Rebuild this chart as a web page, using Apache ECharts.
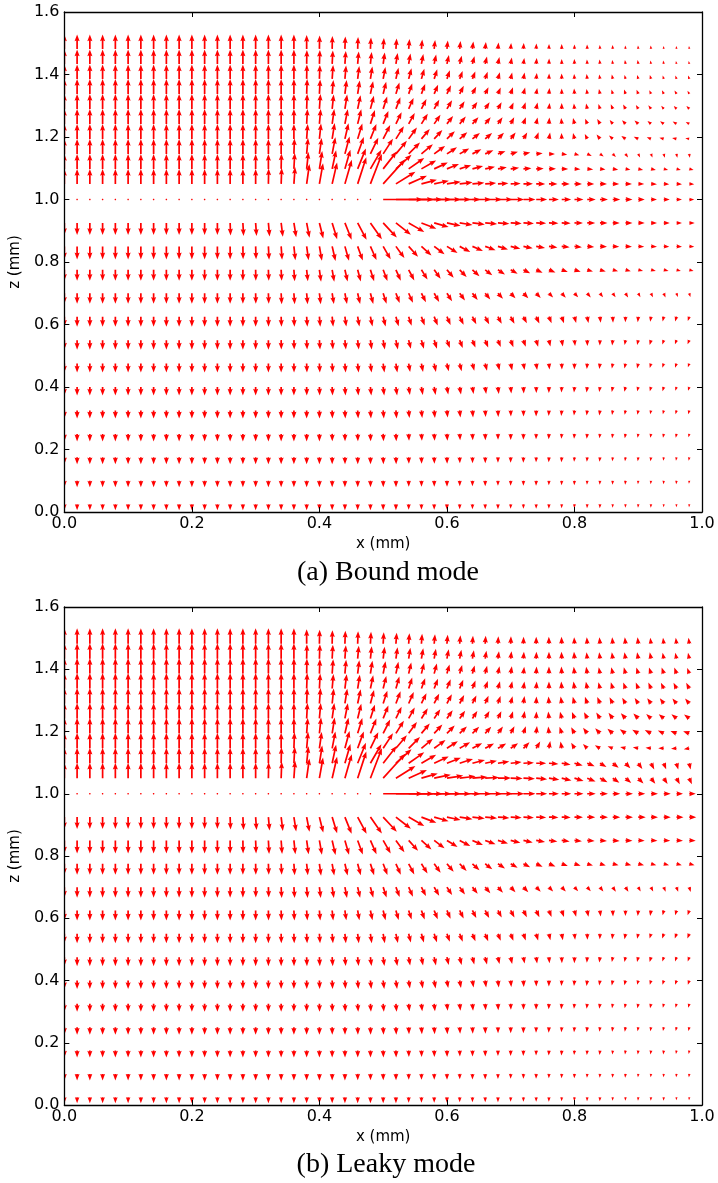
<!DOCTYPE html>
<html>
<head>
<meta charset="utf-8">
<script src="https://cdn.jsdelivr.net/npm/echarts@6/dist/echarts.min.js"></script>
<style>
  html, body { margin: 0; padding: 0; background: #fff; }
  #chart { width: 718px; height: 1183px; }
</style>
</head>
<body>
<div id="chart"></div>
<script>
// Sample positions of the vector field (mm)
const xCols = [0.00,0.02,0.04,0.06,0.08,0.10,0.12,0.14,0.16,0.18,0.20,0.22,0.24,0.26,0.28,0.30,0.32,0.34,0.36,0.38,0.40,0.42,0.44,0.46,0.48,0.50,0.52,0.54,0.56,0.58,0.60,0.62,0.64,0.66,0.68,0.70,0.72,0.74,0.76,0.78,0.80,0.82,0.84,0.86,0.88,0.90,0.92,0.94,0.96,0.98];
const zUpper = [1.05,1.098,1.146,1.194,1.242,1.29,1.338,1.386,1.434,1.482];
const zMid = 1.0;
const zLower = [0.925,0.85,0.775,0.7,0.625,0.55,0.475,0.4,0.325,0.25,0.175,0.1,0.025];

const xTickLabels = ['0.0','0.2','0.4','0.6','0.8','1.0'];
const yTickLabels = ['0.0','0.2','0.4','0.6','0.8','1.0','1.2','1.4','1.6'];
const captions = ['(a) Bound mode', '(b) Leaky mode'];

// ---------- (a) Bound mode: field direction (deg, CCW from +x) and magnitude ----------
const boundUpperAngle = [
[90,90,90,90,90,90,90,90,90,90,90,90,90,90,90,90,89,88,86,82,80,77,74,72,69,48,32,24,15,12,9,7,5,4,3,2,1,0,0,-1,-1,-1,-2,-2,-2,-2,-3,-3,-3,-3],
[90,90,90,90,90,90,90,90,90,90,90,90,90,90,90,90,90,89,87,84,81,78,74,68,60,52,42,35,30,25,22,18,15,12,10,7,5,3,1,-1,-3,-5,-7,-9,-10,-12,-13,-14,-15,-16],
[90,90,90,90,90,90,90,90,90,90,90,90,90,90,90,90,90,90,88,85,82,79,75,70,64,57,50,45,40,36,33,30,27,24,20,16,12,6,0,-8,-16,-25,-35,-45,-55,-62,-68,-74,-78,-82],
[90,90,90,90,90,90,90,90,90,90,90,90,90,90,90,90,90,90,90,86,84,81,77,73,68,63,58,54,50,47,44,41,38,40,45,52,60,70,80,92,104,116,128,138,146,154,160,165,168,170],
[90,90,90,90,90,90,90,90,90,90,90,90,90,90,90,90,90,90,90,87,85,82,79,76,72,68,64,61,58,55,52,50,48,50,55,62,70,78,86,95,104,112,120,127,133,138,142,145,148,150],
[90,90,90,90,90,90,90,90,90,90,90,90,90,90,90,90,90,90,90,88,86,84,81,78,75,72,69,66,63,61,59,57,55,57,61,66,72,78,84,90,96,102,108,113,118,122,126,129,132,135],
[90,90,90,90,90,90,90,90,90,90,90,90,90,90,90,90,90,90,90,88,87,85,83,81,78,76,73,71,69,67,65,63,62,64,67,71,75,80,85,90,94,98,102,106,109,112,115,117,119,120],
[90,90,90,90,90,90,90,90,90,90,90,90,90,90,90,90,90,90,90,89,88,86,85,83,81,79,77,75,74,72,71,70,69,71,74,77,80,84,88,91,94,97,100,102,104,106,107,108,109,110],
[90,90,90,90,90,90,90,90,90,90,90,90,90,90,90,90,90,90,90,89,88,87,86,85,84,82,81,80,79,78,77,76,75,76,78,80,82,85,88,90,92,94,96,97,98,99,100,100,101,101],
[90,90,90,90,90,90,90,90,90,90,90,90,90,90,90,90,90,90,90,90,89,89,88,88,87,86,86,85,85,84,84,84,83,84,85,86,87,88,89,90,91,92,93,93,94,94,95,95,95,95]
];
const boundUpperLength = [
[15,15,15,15,15,15,15,15,15,15,15,15,15,15,15,15,15.5,16,17,20,21,22,25,28,32,33,23,20,16,15,14,13,12,11,10.5,10,9.5,9,8.5,8,7.5,7,7,6.5,6.5,6,6,5.5,5.5,5],
[15,15,15,15,15,15,15,15,15,15,15,15,15,15,15,15,15,15.5,16,17,18,19,20,22,22,22,21,19,17,15,13,12,11,10,9,8.5,8,7.5,7,6.5,6,6,5.5,5.5,5,5,5,4.5,4.5,4.5],
[15,15,15,15,15,15,15,15,15,15,15,15,15,15,15,15,15,15,15.5,16,16,17,18,18,18,18,17,16,15,13.5,12,11,10,9,8,7.5,7,6.5,6,5.5,5,5,4.5,4.5,4.5,4,4,4,4,4],
[15,15,15,15,15,15,15,15,15,15,15,15,15,15,15,15,15,15,15,15,15.5,16,16,16,16,15.5,15,14,13,12,11,10,9.5,9,8.5,8,7.5,7,6.5,6,6,5.5,5.5,5,5,5,4.5,4.5,4.5,4],
[15,15,15,15,15,15,15,15,15,15,15,15,15,15,15,15,15,15,15,15,15,15,15,15,14.5,14,13,12.5,12,11,10,9.5,9,8.5,8,7.5,7,6.5,6.5,6,6,5.5,5.5,5,5,5,4.5,4.5,4.5,4],
[15,15,15,15,15,15,15,15,15,15,15,15,15,15,15,15,15,15,15,15,15,14.5,14.5,14,13.5,13,12.5,12,11,10.5,10,9,8.5,8,7.5,7,7,6.5,6,6,5.5,5.5,5,5,5,4.5,4.5,4,4,4],
[15,15,15,15,15,15,15,15,15,15,15,15,15,15,15,15,15,15,15,15,14.5,14,14,13.5,13,12.5,12,11,10.5,10,9.5,9,8,7.5,7,7,6.5,6,6,5.5,5.5,5,5,4.5,4.5,4.5,4,4,4,3.5],
[14.5,14.5,14.5,14.5,14.5,14.5,14.5,14.5,14.5,14.5,14.5,14.5,14.5,14.5,14.5,14.5,14.5,14.5,14.5,14.5,14,14,13.5,13,12.5,12,11.5,11,10.5,10,9,8.5,8,7.5,7,6.5,6.5,6,5.5,5.5,5,5,4.5,4.5,4,4,4,3.5,3.5,3.5],
[14.5,14.5,14.5,14.5,14.5,14.5,14.5,14.5,14.5,14.5,14.5,14.5,14.5,14.5,14.5,14.5,14.5,14.5,14.5,14,14,13.5,13,12.5,12,11.5,11,10.5,10,9.5,9,8.5,8,7.5,7,6.5,6,6,5.5,5,5,4.5,4.5,4,4,4,3.5,3.5,3,3],
[14.5,14.5,14.5,14.5,14.5,14.5,14.5,14.5,14.5,14.5,14.5,14.5,14.5,14.5,14.5,14.5,14.5,14.5,14.5,14,13.5,13,12.5,12,11.5,11,10.5,10,9.5,9,8.5,8,7.5,7,6.5,6,6,5.5,5,5,4.5,4.5,4,4,3.5,3.5,3.5,3,3,3]
];
const boundMidAngle = [0,0,0,0,0,0,0,0,0,0,0,0,0,0,0,0,0,0,0,0,0,0,0,0,0,0,0,0,0,0,0,0,0,0,0,0,0,0,0,0,0,0,0,0,0,0,0,0,0,0];
const boundMidLength = [0.5,0.5,0.5,0.5,0.5,0.5,0.5,0.5,0.5,0.5,0.5,0.5,0.5,0.5,0.5,0.5,0.5,0.5,0.5,0.5,0.5,0.5,0.5,0.5,0.5,40,38,34,30,27,24,21,19,17,15,13.5,12,11,10,9.5,9,8.5,8,7.5,7,6.5,6,6,5.5,5];
const boundLowerAngle = [
[-90,-90,-90,-90,-90,-90,-90,-90,-90,-90,-90,-90,-90,-88,-87,-86,-85,-83,-81,-79,-76,-73,-68,-62,-55,-47,-38,-30,-21,-16,-12,-9,-7,-5,-4,-3,-3,-2,-2,-2,-1,-1,-1,-1,-1,-1,-1,-1,-1,-1],
[-90,-90,-90,-90,-90,-90,-90,-90,-90,-90,-90,-90,-90,-90,-89,-88,-87,-86,-84,-82,-80,-77,-74,-70,-66,-60,-54,-48,-42,-37,-32,-28,-24,-20,-17,-14,-12,-10,-8,-7,-6,-5,-4,-4,-3,-3,-3,-3,-3,-3],
[-90,-90,-90,-90,-90,-90,-90,-90,-90,-90,-90,-90,-90,-90,-90,-89,-88,-87,-86,-84,-82,-80,-77,-75,-72,-69,-66,-62,-58,-54,-50,-46,-42,-38,-34,-30,-27,-24,-22,-20,-18,-17,-16,-15,-15,-15,-15,-15,-15,-15],
[-90,-90,-90,-90,-90,-90,-90,-90,-90,-90,-90,-90,-90,-90,-90,-89,-88,-87,-86,-85,-83,-81,-79,-77,-75,-72,-69,-66,-63,-60,-57,-54,-52,-50,-48,-47,-46,-46,-46,-47,-48,-50,-52,-55,-58,-61,-64,-67,-70,-73],
[-90,-90,-90,-90,-90,-90,-90,-90,-90,-90,-90,-90,-90,-90,-90,-90,-89,-88,-87,-86,-85,-84,-82,-80,-78,-76,-74,-72,-70,-68,-66,-64,-63,-62,-62,-62,-63,-65,-68,-71,-75,-79,-83,-87,-91,-95,-99,-103,-106,-109],
[-90,-90,-90,-90,-90,-90,-90,-90,-90,-90,-90,-90,-90,-90,-90,-90,-90,-89,-88,-87,-86,-85,-84,-83,-82,-80,-78,-76,-74,-72,-70,-69,-68,-68,-68,-69,-71,-74,-77,-80,-84,-88,-92,-96,-100,-103,-106,-108,-110,-112],
[-90,-90,-90,-90,-90,-90,-90,-90,-90,-90,-90,-90,-90,-90,-90,-90,-90,-90,-89,-88,-87,-86,-85,-84,-83,-82,-81,-80,-79,-78,-77,-76,-76,-76,-77,-78,-80,-82,-85,-88,-91,-94,-97,-100,-102,-104,-106,-108,-109,-110],
[-90,-90,-90,-90,-90,-90,-90,-90,-90,-90,-90,-90,-90,-90,-90,-90,-90,-90,-90,-89,-88,-87,-86,-85,-84,-83,-82,-81,-80,-80,-80,-80,-81,-82,-83,-85,-87,-89,-91,-93,-95,-97,-99,-101,-103,-104,-105,-106,-107,-108],
[-90,-90,-90,-90,-90,-90,-90,-90,-90,-90,-90,-90,-90,-90,-90,-90,-90,-90,-90,-90,-89,-88,-87,-86,-86,-85,-85,-84,-84,-84,-84,-84,-85,-86,-87,-88,-89,-91,-93,-95,-96,-97,-98,-99,-100,-101,-102,-103,-104,-105],
[-90,-90,-90,-90,-90,-90,-90,-90,-90,-90,-90,-90,-90,-90,-90,-90,-90,-90,-90,-90,-90,-89,-89,-88,-88,-87,-87,-87,-86,-86,-86,-86,-87,-88,-89,-90,-91,-92,-93,-94,-95,-96,-97,-98,-99,-100,-100,-101,-101,-102],
[-90,-90,-90,-90,-90,-90,-90,-90,-90,-90,-90,-90,-90,-90,-90,-90,-90,-90,-90,-90,-90,-90,-89,-89,-89,-88,-88,-88,-88,-88,-88,-88,-89,-89,-90,-91,-92,-92,-93,-94,-95,-95,-96,-96,-97,-97,-98,-98,-99,-99],
[-90,-90,-90,-90,-90,-90,-90,-90,-90,-90,-90,-90,-90,-90,-90,-90,-90,-90,-90,-90,-90,-90,-90,-89,-89,-89,-89,-89,-89,-89,-89,-89,-90,-90,-90,-91,-91,-92,-92,-93,-93,-94,-94,-94,-95,-95,-95,-96,-96,-96],
[-90,-90,-90,-90,-90,-90,-90,-90,-90,-90,-90,-90,-90,-90,-90,-90,-90,-90,-90,-90,-90,-90,-90,-90,-90,-90,-90,-90,-90,-90,-90,-90,-90,-90,-90,-91,-91,-91,-92,-92,-92,-93,-93,-93,-93,-94,-94,-94,-94,-94]
];
const boundLowerLength = [
[12,12,12,12,12,12,12,12,12,12,12,12,12,12.5,13,13,13.5,14,14.5,15,16,17,18,19,20,20,19,18,16,15,14,13,12.5,12,11.5,11,10.5,10,9.5,9,8.5,8,7.5,7,7,6.5,6,6,5.5,5.5],
[13,13,13,13,13,13,13,13,13,13,13,13,13,13,13,13,13.5,13.5,14,14,14.5,15,15,15,15,15,14.5,14,13.5,13,12.5,12,11.5,11,10.5,10,9.5,9,8.5,8,7.5,7,7,6.5,6.5,6,6,5.5,5.5,5],
[11,11,11,11,11,11,11,11,11,11,11,11,11,11,11,11,11,11,11.5,11.5,12,12,12,12,12,12,12,12,11.5,11,10.5,10,9.5,9,8.5,8,7.5,7,7,6.5,6.5,6,6,5.5,5.5,5,5,5,4.5,4.5],
[10.5,10.5,10.5,10.5,10.5,10.5,10.5,10.5,10.5,10.5,10.5,10.5,10.5,10.5,10.5,10.5,10.5,11,11,11,11,11,11,11,11,11,10.5,10.5,10,10,9.5,9,8.5,8,7.5,7,7,6.5,6,6,5.5,5.5,5,5,5,4.5,4.5,4.5,4,4],
[10,10,10,10,10,10,10,10,10,10,10,10,10,10,10,10,10,10,10,10,10,10,10,10,10,10,10,9.5,9.5,9.5,9,9,8.5,8.5,8,8,7.5,7.5,7,7,6.5,6.5,6,6,5.5,5.5,5,5,5,4.5],
[9.5,9.5,9.5,9.5,9.5,9.5,9.5,9.5,9.5,9.5,9.5,9.5,9.5,9.5,9.5,9.5,9.5,9.5,9.5,9.5,9.5,9.5,9.5,9.5,9.5,9.5,9.5,9,9,9,8.5,8.5,8,8,7.5,7.5,7,7,6.5,6.5,6,6,5.5,5.5,5,5,5,4.5,4.5,4.5],
[9,9,9,9,9,9,9,9,9,9,9,9,9,9,9,9,9,9,9,9,9,9,9,9,9,9,9,8.5,8.5,8.5,8,8,7.5,7.5,7,7,6.5,6.5,6,6,6,5.5,5.5,5,5,5,4.5,4.5,4.5,4],
[8.5,8.5,8.5,8.5,8.5,8.5,8.5,8.5,8.5,8.5,8.5,8.5,8.5,8.5,8.5,8.5,8.5,8.5,8.5,8.5,8.5,8.5,8.5,8.5,8.5,8.5,8.5,8,8,8,7.5,7.5,7,7,7,6.5,6.5,6,6,5.5,5.5,5.5,5,5,5,4.5,4.5,4.5,4,4],
[8,8,8,8,8,8,8,8,8,8,8,8,8,8,8,8,8,8,8,8,8,8,8,8,8,8,8,7.5,7.5,7.5,7,7,7,6.5,6.5,6,6,6,5.5,5.5,5,5,5,4.5,4.5,4.5,4,4,4,4],
[7.5,7.5,7.5,7.5,7.5,7.5,7.5,7.5,7.5,7.5,7.5,7.5,7.5,7.5,7.5,7.5,7.5,7.5,7.5,7.5,7.5,7.5,7.5,7.5,7.5,7.5,7.5,7,7,7,7,6.5,6.5,6.5,6,6,6,5.5,5.5,5,5,5,4.5,4.5,4.5,4,4,4,4,3.5],
[7,7,7,7,7,7,7,7,7,7,7,7,7,7,7,7,7,7,7,7,7,7,7,7,7,7,7,6.5,6.5,6.5,6.5,6,6,6,5.5,5.5,5.5,5,5,5,4.5,4.5,4.5,4,4,4,4,3.5,3.5,3.5],
[6.5,6.5,6.5,6.5,6.5,6.5,6.5,6.5,6.5,6.5,6.5,6.5,6.5,6.5,6.5,6.5,6.5,6.5,6.5,6.5,6.5,6.5,6.5,6.5,6.5,6.5,6.5,6,6,6,6,5.5,5.5,5.5,5,5,5,5,4.5,4.5,4.5,4,4,4,4,3.5,3.5,3.5,3.5,3],
[6,6,6,6,6,6,6,6,6,6,6,6,6,6,6,6,6,6,6,6,6,6,6,6,6,6,6,5.5,5.5,5.5,5.5,5,5,5,5,4.5,4.5,4.5,4.5,4,4,4,4,3.5,3.5,3.5,3.5,3,3,3]
];

// ---------- (b) Leaky mode ----------
const leakyUpperAngle = [
[90,90,90,90,90,90,90,90,90,90,90,90,90,90,90,90,89,88,86,82,80,77,74,72,69,48,32,24,16,12,9,7,5,3,1,-1,-3,-6,-9,-13,-17,-22,-28,-34,-40,-46,-52,-57,-62,-66],
[90,90,90,90,90,90,90,90,90,90,90,90,90,90,90,90,90,89,87,84,81,78,74,68,60,52,42,35,30,25,22,18,15,12,9,6,3,0,-4,-9,-15,-22,-30,-38,-46,-54,-62,-68,-74,-78],
[90,90,90,90,90,90,90,90,90,90,90,90,90,90,90,90,90,90,88,85,82,79,75,70,64,57,50,45,40,36,33,30,28,28,30,35,45,60,80,100,120,135,148,158,165,170,175,180,185,190],
[90,90,90,90,90,90,90,90,90,90,90,90,90,90,90,90,90,90,90,86,84,81,77,73,68,63,58,54,50,47,45,44,45,48,54,62,72,84,96,108,118,126,133,139,144,148,152,155,158,160],
[90,90,90,90,90,90,90,90,90,90,90,90,90,90,90,90,90,90,90,87,85,82,79,76,72,68,64,61,58,56,55,55,57,60,65,72,80,88,96,104,111,117,122,127,131,134,137,139,141,143],
[90,90,90,90,90,90,90,90,90,90,90,90,90,90,90,90,90,90,90,88,86,84,81,78,75,72,69,66,64,63,62,62,64,67,71,76,82,88,94,99,104,109,113,117,120,123,125,127,129,130],
[90,90,90,90,90,90,90,90,90,90,90,90,90,90,90,90,90,90,90,88,87,85,83,81,78,76,74,72,70,69,68,68,69,71,74,78,82,86,90,94,98,101,104,107,110,112,114,116,117,118],
[90,90,90,90,90,90,90,90,90,90,90,90,90,90,90,90,90,90,90,89,88,86,85,83,81,79,78,77,76,75,74,74,75,76,78,81,84,87,90,93,96,99,101,103,105,107,108,109,110,110],
[90,90,90,90,90,90,90,90,90,90,90,90,90,90,90,90,90,90,90,89,88,87,86,85,84,83,82,81,80,80,79,79,80,81,82,84,86,88,90,92,94,96,97,98,99,100,101,101,102,102],
[90,90,90,90,90,90,90,90,90,90,90,90,90,90,90,90,90,90,90,90,89,89,88,88,87,87,86,86,86,85,85,85,86,86,87,88,89,90,91,92,93,94,95,95,96,96,97,97,97,97]
];
const leakyUpperLength = [
[15.5,15.5,15.5,15.5,15.5,15.5,15.5,15.5,15.5,15.5,15.5,15.5,15.5,15.5,15.5,15.5,16,16.5,17.5,20,21,22,25,28,32,33,23,20,17,17,16.5,16,15,14,13,12,11.5,11,10.5,10,9.5,9,8.5,8,7.5,7.5,7,7,7,6.5],
[15.5,15.5,15.5,15.5,15.5,15.5,15.5,15.5,15.5,15.5,15.5,15.5,15.5,15.5,15.5,15.5,15.5,16,16.5,17,18,19,20,22,22,22,21,19,17,16,15,14,13,12,11.5,11,10.5,10,9.5,9,8.5,8,7.5,7.5,7,7,7,6.5,6.5,6.5],
[15.5,15.5,15.5,15.5,15.5,15.5,15.5,15.5,15.5,15.5,15.5,15.5,15.5,15.5,15.5,15.5,15.5,15.5,16,16.5,16.5,17,18,18,18,18,17,16,15,14,13,12,11,10,9.5,9,8.5,8,7.5,7,6.5,6,6,5.5,5.5,5.5,5.5,5.5,5.5,5.5],
[15.5,15.5,15.5,15.5,15.5,15.5,15.5,15.5,15.5,15.5,15.5,15.5,15.5,15.5,15.5,15.5,15.5,15.5,15.5,15.5,16,16,16,16,16,15.5,15,14,13,12,11,10,9.5,9,8.5,8,7.5,7.5,7,7,7,7,7,7,7,7,7,6.5,6.5,6.5],
[15.5,15.5,15.5,15.5,15.5,15.5,15.5,15.5,15.5,15.5,15.5,15.5,15.5,15.5,15.5,15.5,15.5,15.5,15.5,15.5,15.5,15.5,15.5,15,14.5,14,13,12.5,12,11,10,9.5,9,8.5,8,7.5,7.5,7,7,7,7,7,7,7,7,7,6.5,6.5,6.5,6.5],
[15.5,15.5,15.5,15.5,15.5,15.5,15.5,15.5,15.5,15.5,15.5,15.5,15.5,15.5,15.5,15.5,15.5,15.5,15.5,15.5,15.5,15,15,14.5,14,13.5,13,12.5,11.5,11,10.5,9.5,9,8.5,8,7.5,7.5,7,7,7,7,7,7,7,6.5,6.5,6.5,6.5,6.5,6.5],
[15.5,15.5,15.5,15.5,15.5,15.5,15.5,15.5,15.5,15.5,15.5,15.5,15.5,15.5,15.5,15.5,15.5,15.5,15.5,15.5,15,14.5,14.5,14,13.5,13,12.5,11.5,11,10.5,10,9.5,8.5,8,7.5,7.5,7,7,7,7,7,7,6.5,6.5,6.5,6.5,6.5,6.5,6.5,6.5],
[15.5,15.5,15.5,15.5,15.5,15.5,15.5,15.5,15.5,15.5,15.5,15.5,15.5,15.5,15.5,15.5,15.5,15.5,15.5,15,14.5,14.5,14,13.5,13,12.5,12,11.5,11,10.5,9.5,9,8.5,8,7.5,7.5,7,7,7,7,7,7,6.5,6.5,6.5,6.5,6.5,6.5,6.5,6],
[15.5,15.5,15.5,15.5,15.5,15.5,15.5,15.5,15.5,15.5,15.5,15.5,15.5,15.5,15.5,15.5,15.5,15.5,15.5,14.5,14.5,14,13.5,13,12.5,12,11.5,11,10.5,10,9.5,9,8.5,8,7.5,7.5,7,7,7,7,7,6.5,6.5,6.5,6.5,6.5,6.5,6,6,6],
[15.5,15.5,15.5,15.5,15.5,15.5,15.5,15.5,15.5,15.5,15.5,15.5,15.5,15.5,15.5,15.5,15.5,15.5,15.5,14.5,14,13.5,13,12.5,12,11.5,11,10.5,10,9.5,9,8.5,8,8,7.5,7.5,7,7,7,7,6.5,6.5,6.5,6.5,6.5,6.5,6,6,6,6]
];
const leakyMidAngle = [0,0,0,0,0,0,0,0,0,0,0,0,0,0,0,0,0,0,0,0,0,0,0,0,0,0,0,0,0,0,0,0,0,0,0,0,0,0,0,0,0,0,0,0,0,0,0,0,0,0];
const leakyMidLength = [0.5,0.5,0.5,0.5,0.5,0.5,0.5,0.5,0.5,0.5,0.5,0.5,0.5,0.5,0.5,0.5,0.5,0.5,0.5,0.5,0.5,0.5,0.5,0.5,0.5,40,38,34,30,27,24,21,19,17,15,13.5,12,11,10,9.5,9,8.5,8,7.5,7.5,7,7,7,6.5,6.5];
const leakyLowerAngle = [
[-90,-90,-90,-90,-90,-90,-90,-90,-90,-90,-90,-90,-90,-88,-87,-86,-85,-83,-81,-79,-76,-73,-68,-62,-55,-47,-38,-30,-21,-16,-12,-9,-7,-5,-4,-3,-3,-2,-2,-2,-1,-1,-1,-1,-1,-1,-1,-1,-1,-1],
[-90,-90,-90,-90,-90,-90,-90,-90,-90,-90,-90,-90,-90,-90,-89,-88,-87,-86,-84,-82,-80,-77,-74,-70,-66,-60,-54,-48,-42,-37,-32,-28,-24,-20,-17,-14,-12,-10,-8,-7,-6,-5,-4,-4,-3,-3,-3,-3,-3,-3],
[-90,-90,-90,-90,-90,-90,-90,-90,-90,-90,-90,-90,-90,-90,-90,-89,-88,-87,-86,-84,-82,-80,-77,-75,-72,-69,-66,-62,-58,-54,-50,-46,-42,-38,-34,-30,-27,-24,-22,-20,-18,-17,-16,-15,-15,-15,-15,-15,-15,-15],
[-90,-90,-90,-90,-90,-90,-90,-90,-90,-90,-90,-90,-90,-90,-90,-89,-88,-87,-86,-85,-83,-81,-79,-77,-75,-72,-69,-66,-63,-60,-57,-54,-52,-50,-48,-47,-46,-46,-46,-47,-48,-50,-52,-55,-58,-61,-64,-67,-70,-73],
[-90,-90,-90,-90,-90,-90,-90,-90,-90,-90,-90,-90,-90,-90,-90,-90,-89,-88,-87,-86,-85,-84,-82,-80,-78,-76,-74,-72,-70,-68,-66,-64,-63,-62,-62,-62,-63,-65,-68,-71,-75,-79,-83,-87,-91,-95,-99,-103,-106,-109],
[-90,-90,-90,-90,-90,-90,-90,-90,-90,-90,-90,-90,-90,-90,-90,-90,-90,-89,-88,-87,-86,-85,-84,-83,-82,-80,-78,-76,-74,-72,-70,-69,-68,-68,-68,-69,-71,-74,-77,-80,-84,-88,-92,-96,-100,-103,-106,-108,-110,-112],
[-90,-90,-90,-90,-90,-90,-90,-90,-90,-90,-90,-90,-90,-90,-90,-90,-90,-90,-89,-88,-87,-86,-85,-84,-83,-82,-81,-80,-79,-78,-77,-76,-76,-76,-77,-78,-80,-82,-85,-88,-91,-94,-97,-100,-102,-104,-106,-108,-109,-110],
[-90,-90,-90,-90,-90,-90,-90,-90,-90,-90,-90,-90,-90,-90,-90,-90,-90,-90,-90,-89,-88,-87,-86,-85,-84,-83,-82,-81,-80,-80,-80,-80,-81,-82,-83,-85,-87,-89,-91,-93,-95,-97,-99,-101,-103,-104,-105,-106,-107,-108],
[-90,-90,-90,-90,-90,-90,-90,-90,-90,-90,-90,-90,-90,-90,-90,-90,-90,-90,-90,-90,-89,-88,-87,-86,-86,-85,-85,-84,-84,-84,-84,-84,-85,-86,-87,-88,-89,-91,-93,-95,-96,-97,-98,-99,-100,-101,-102,-103,-104,-105],
[-90,-90,-90,-90,-90,-90,-90,-90,-90,-90,-90,-90,-90,-90,-90,-90,-90,-90,-90,-90,-90,-89,-89,-88,-88,-87,-87,-87,-86,-86,-86,-86,-87,-88,-89,-90,-91,-92,-93,-94,-95,-96,-97,-98,-99,-100,-100,-101,-101,-102],
[-90,-90,-90,-90,-90,-90,-90,-90,-90,-90,-90,-90,-90,-90,-90,-90,-90,-90,-90,-90,-90,-90,-89,-89,-89,-88,-88,-88,-88,-88,-88,-88,-89,-89,-90,-91,-92,-92,-93,-94,-95,-95,-96,-96,-97,-97,-98,-98,-99,-99],
[-90,-90,-90,-90,-90,-90,-90,-90,-90,-90,-90,-90,-90,-90,-90,-90,-90,-90,-90,-90,-90,-90,-90,-89,-89,-89,-89,-89,-89,-89,-89,-89,-90,-90,-90,-91,-91,-92,-92,-93,-93,-94,-94,-94,-95,-95,-95,-96,-96,-96],
[-90,-90,-90,-90,-90,-90,-90,-90,-90,-90,-90,-90,-90,-90,-90,-90,-90,-90,-90,-90,-90,-90,-90,-90,-90,-90,-90,-90,-90,-90,-90,-90,-90,-90,-90,-91,-91,-91,-92,-92,-92,-93,-93,-93,-93,-94,-94,-94,-94,-94]
];
const leakyLowerLength = [
[12,12,12,12,12,12,12,12,12,12,12,12,12,12.5,13,13,13.5,14,14.5,15,16,17,18,19,20,20,19,18,16,15,14,13,12.5,12,11.5,11,10.5,10,9.5,9,8.5,8,8,7.5,7.5,7.5,7,7,7,7],
[13,13,13,13,13,13,13,13,13,13,13,13,13,13,13,13,13.5,13.5,14,14,14.5,15,15,15,15,15,14.5,14,13.5,13,12.5,12,11.5,11,10.5,10,9.5,9,8.5,8,7.5,7.5,7,7,7,6.5,6.5,6.5,6.5,6.5],
[11,11,11,11,11,11,11,11,11,11,11,11,11,11,11,11,11,11,11.5,11.5,12,12,12,12,12,12,12,12,11.5,11,10.5,10,9.5,9,8.5,8,7.5,7,7,6.5,6.5,6,6,6,6,6,5.5,5.5,5.5,5.5],
[10.5,10.5,10.5,10.5,10.5,10.5,10.5,10.5,10.5,10.5,10.5,10.5,10.5,10.5,10.5,10.5,10.5,11,11,11,11,11,11,11,11,11,10.5,10.5,10,10,9.5,9,8.5,8,7.5,7,7,6.5,6,6,5.5,5.5,5.5,5.5,5.5,5,5,5,5,5],
[10,10,10,10,10,10,10,10,10,10,10,10,10,10,10,10,10,10,10,10,10,10,10,10,10,10,10,9.5,9.5,9.5,9,9,8.5,8.5,8,8,7.5,7.5,7,7,6.5,6.5,6,6,5.5,5.5,5.5,5,5,5],
[9.5,9.5,9.5,9.5,9.5,9.5,9.5,9.5,9.5,9.5,9.5,9.5,9.5,9.5,9.5,9.5,9.5,9.5,9.5,9.5,9.5,9.5,9.5,9.5,9.5,9.5,9.5,9,9,9,8.5,8.5,8,8,7.5,7.5,7,7,6.5,6.5,6,6,5.5,5.5,5.5,5,5,5,5,5],
[9,9,9,9,9,9,9,9,9,9,9,9,9,9,9,9,9,9,9,9,9,9,9,9,9,9,9,8.5,8.5,8.5,8,8,7.5,7.5,7,7,6.5,6.5,6,6,6,5.5,5.5,5,5,5,5,4.5,4.5,4.5],
[8.5,8.5,8.5,8.5,8.5,8.5,8.5,8.5,8.5,8.5,8.5,8.5,8.5,8.5,8.5,8.5,8.5,8.5,8.5,8.5,8.5,8.5,8.5,8.5,8.5,8.5,8.5,8,8,8,7.5,7.5,7,7,7,6.5,6.5,6,6,5.5,5.5,5.5,5,5,5,4.5,4.5,4.5,4.5,4.5],
[8,8,8,8,8,8,8,8,8,8,8,8,8,8,8,8,8,8,8,8,8,8,8,8,8,8,8,7.5,7.5,7.5,7,7,7,6.5,6.5,6,6,6,5.5,5.5,5,5,5,4.5,4.5,4.5,4.5,4,4,4],
[7.5,7.5,7.5,7.5,7.5,7.5,7.5,7.5,7.5,7.5,7.5,7.5,7.5,7.5,7.5,7.5,7.5,7.5,7.5,7.5,7.5,7.5,7.5,7.5,7.5,7.5,7.5,7,7,7,7,6.5,6.5,6.5,6,6,6,5.5,5.5,5,5,5,4.5,4.5,4.5,4,4,4,4,4],
[7,7,7,7,7,7,7,7,7,7,7,7,7,7,7,7,7,7,7,7,7,7,7,7,7,7,7,6.5,6.5,6.5,6.5,6,6,6,5.5,5.5,5.5,5,5,5,4.5,4.5,4.5,4,4,4,4,4,3.5,3.5],
[6.5,6.5,6.5,6.5,6.5,6.5,6.5,6.5,6.5,6.5,6.5,6.5,6.5,6.5,6.5,6.5,6.5,6.5,6.5,6.5,6.5,6.5,6.5,6.5,6.5,6.5,6.5,6,6,6,6,5.5,5.5,5.5,5,5,5,5,4.5,4.5,4.5,4,4,4,4,3.5,3.5,3.5,3.5,3.5],
[6,6,6,6,6,6,6,6,6,6,6,6,6,6,6,6,6,6,6,6,6,6,6,6,6,6,6,5.5,5.5,5.5,5.5,5,5,5,5,4.5,4.5,4.5,4.5,4,4,4,4,3.5,3.5,3.5,3.5,3.5,3,3]
];

// ---------- quiver drawing ----------
const ARROW_COLOR = '#ff0000';
const SHAFT = 1.7;          // shaft width, px
const HEAD_W = 3;           // head width, in shaft widths
const HEAD_L = 4;           // head length, in shaft widths
const HEAD_AX = 3.6;        // head axis length, in shaft widths

// Arrow outline along +x with tail at the origin (pixel units)
function arrowOutline(lenPx) {
  const L = lenPx / SHAFT;
  if (L < 1) {
    const pts = [];
    for (let k = 0; k < 6; k++) {
      const t = k * Math.PI / 3;
      pts.push([Math.cos(t) * 0.5 * SHAFT, Math.sin(t) * 0.5 * SHAFT]);
    }
    return pts;
  }
  let X, Y;
  if (L >= HEAD_L) {
    X = [0, L - HEAD_AX, L - HEAD_L, L, L - HEAD_L, L - HEAD_AX, 0];
    Y = [0.5, 0.5, HEAD_W / 2, 0, -HEAD_W / 2, -0.5, -0.5];
  } else {
    const s = L / HEAD_L;
    X = [0, HEAD_L - HEAD_AX, 0, HEAD_L, 0, HEAD_L - HEAD_AX, 0].map(v => v * s);
    Y = [0.5, 0.5, HEAD_W / 2, 0, -HEAD_W / 2, -0.5, -0.5].map(v => v * s);
  }
  return X.map((x, k) => [x * SHAFT, Y[k] * SHAFT]);
}

function buildField(upA, upL, midA, midL, loA, loL) {
  const out = [];
  zUpper.forEach((z, r) => xCols.forEach((x, i) => out.push([x, z, upA[r][i], upL[r][i]])));
  xCols.forEach((x, i) => out.push([x, zMid, midA[i], midL[i]]));
  zLower.forEach((z, r) => xCols.forEach((x, i) => out.push([x, z, loA[r][i], loL[r][i]])));
  return out;
}

function renderArrow(params, api) {
  const tail = api.coord([api.value(0), api.value(1)]);
  const a = api.value(2) * Math.PI / 180;
  const dx = Math.cos(a), dy = -Math.sin(a);
  const nx = -dy, ny = dx;
  const pts = arrowOutline(api.value(3)).map(([u, v]) => [
    tail[0] + u * dx + v * nx,
    tail[1] + u * dy + v * ny
  ]);
  return { type: 'polygon', shape: { points: pts }, style: { fill: ARROW_COLOR } };
}

const boundData = buildField(boundUpperAngle, boundUpperLength, boundMidAngle, boundMidLength, boundLowerAngle, boundLowerLength);
const leakyData = buildField(leakyUpperAngle, leakyUpperLength, leakyMidAngle, leakyMidLength, leakyLowerAngle, leakyLowerLength);

// ---------- axes ----------
const AX_FONT = 'DejaVu Sans';
const grids = [
  { left: 60, top: 12, width: 642, height: 500 },
  { left: 60, top: 607, width: 642, height: 498 }
];
const spine = { show: true, onZero: false, lineStyle: { color: '#000', width: 1.3 } };
const tick = { show: true, inside: true, length: 5, lineStyle: { color: '#000', width: 1 } };

function xAxes(g) {
  return [
    { gridIndex: g, type: 'value', position: 'bottom', min: 0, max: 1, interval: 0.2,
      axisLine: spine, axisTick: tick, splitLine: { show: false }, z: 5,
      axisLabel: { color: '#000', fontFamily: AX_FONT, fontSize: 16, margin: 4,
        formatter: v => xTickLabels[Math.round(v / 0.2)] },
      name: 'x (mm)', nameLocation: 'middle', nameGap: 25,
      nameTextStyle: { color: '#000', fontFamily: AX_FONT, fontSize: 15 } },
    { gridIndex: g, type: 'value', position: 'top', min: 0, max: 1, interval: 0.2, z: 5,
      axisLine: spine, axisTick: tick, axisLabel: { show: false }, splitLine: { show: false } }
  ];
}
function yAxes(g) {
  return [
    { gridIndex: g, type: 'value', position: 'left', min: 0, max: 1.6, interval: 0.2,
      axisLine: spine, axisTick: tick, splitLine: { show: false }, z: 5,
      axisLabel: { color: '#000', fontFamily: AX_FONT, fontSize: 16, margin: 5,
        formatter: v => yTickLabels[Math.round(v / 0.2)] },
      name: 'z (mm)', nameLocation: 'middle', nameGap: 37, nameRotate: 90,
      nameTextStyle: { color: '#000', fontFamily: AX_FONT, fontSize: 15 } },
    { gridIndex: g, type: 'value', position: 'right', min: 0, max: 1.6, interval: 0.2, z: 5,
      axisLine: spine, axisTick: tick, axisLabel: { show: false }, splitLine: { show: false } }
  ];
}

const chart = echarts.init(document.getElementById('chart'), null, { renderer: 'canvas' });
chart.setOption({
  animation: false,
  backgroundColor: '#fff',
  grid: grids,
  xAxis: [...xAxes(0), ...xAxes(1)],
  yAxis: [...yAxes(0), ...yAxes(1)],
  series: [
    { type: 'custom', xAxisIndex: 0, yAxisIndex: 0, clip: true, z: 1,
      renderItem: renderArrow, encode: { x: 0, y: 1 }, data: boundData },
    { type: 'custom', xAxisIndex: 2, yAxisIndex: 2, clip: true, z: 1,
      renderItem: renderArrow, encode: { x: 0, y: 1 }, data: leakyData }
  ],
  graphic: [
    { type: 'text', x: 388, y: 573, style: { text: captions[0], font: '28px "Liberation Serif"', fill: '#000', align: 'center', verticalAlign: 'middle' } },
    { type: 'text', x: 386, y: 1165, style: { text: captions[1], font: '28px "Liberation Serif"', fill: '#000', align: 'center', verticalAlign: 'middle' } }
  ]
});
</script>
</body>
</html>
